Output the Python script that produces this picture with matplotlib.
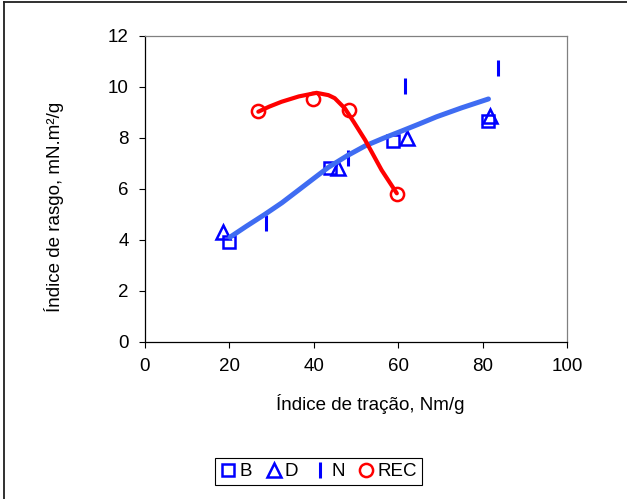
import matplotlib.pyplot as plt
from matplotlib.lines import Line2D

plt.rcParams['font.family'] = ['Liberation Sans', 'DejaVu Sans']

# measured points (x = índice de tração, y = índice de rasgo)
b_x = [20.0, 43.9, 58.9, 81.2]
b_y = [3.92, 6.82, 7.88, 8.65]
d_x = [18.6, 45.7, 62.0, 81.7]
d_y = [4.31, 6.82, 7.97, 8.86]
n_x = [28.7, 48.2, 61.7, 83.6]
n_y = [4.64, 7.19, 10.04, 10.72]
rec_x = [26.9, 39.9, 48.4, 59.8]
rec_y = [9.05, 9.50, 9.09, 5.79]

# trend curves
fit_x = [20.2, 24.0, 28.5, 32.5, 36.3, 40.0, 43.5, 48.0, 52.2, 56.5, 60.8, 65.0, 69.1, 75.0, 81.4]
fit_y = [4.10, 4.52, 5.00, 5.45, 5.93, 6.40, 6.84, 7.30, 7.68, 7.98, 8.26, 8.54, 8.82, 9.17, 9.52]
rfit_x = [26.9, 29.5, 32.4, 36.5, 40.7, 43.5, 45.0, 47.4, 49.5, 52.2, 56.1, 59.7]
rfit_y = [9.02, 9.22, 9.41, 9.62, 9.76, 9.67, 9.55, 9.15, 8.62, 7.91, 6.73, 5.82]

xticks = [0, 20, 40, 60, 80, 100]
yticks = [0, 2, 4, 6, 8, 10, 12]

fig = plt.figure(figsize=(6.27, 4.99), dpi=100)
ax = fig.add_axes([0.2308, 0.3152, 0.6735, 0.6132])

blue = '#0000ff'
ax.plot(b_x, b_y, 's', ms=9, mfc='none', mec=blue, mew=1.8, ls='none', label='B', zorder=3)
ax.plot(d_x, d_y, '^', ms=10, mfc='none', mec=blue, mew=1.8, ls='none', label='D', zorder=3)
ax.plot(n_x, n_y, '|', ms=11, mec=blue, mew=2.2, ls='none', label='N', zorder=3)
ax.plot(rec_x, rec_y, 'o', ms=9.5, mfc='none', mec='#ff0000', mew=1.8, ls='none', label='REC', zorder=3)

ax.plot(fit_x, fit_y, color='#3f6cf2', lw=3.6, solid_capstyle='round', solid_joinstyle='round', zorder=4)
ax.plot(rfit_x, rfit_y, color='#ff0000', lw=3.0, solid_capstyle='round', solid_joinstyle='round', zorder=4)

ax.set_xlim(0, 100)
ax.set_ylim(0, 12)
ax.set_xticks(xticks)
ax.set_yticks(yticks)
ax.tick_params(direction='out', length=4.5, width=0.8, labelsize=13.5, pad=7)

for side in ['left', 'bottom']:
    ax.spines[side].set_color('black')
    ax.spines[side].set_linewidth(0.9)
for side in ['top', 'right']:
    ax.spines[side].set_color('#808080')
    ax.spines[side].set_linewidth(0.9)

ax.set_xlabel('Índice de tração, Nm/g', fontsize=13.5)
ax.set_ylabel('Índice de rasgo, mN.m²/g', fontsize=13.5)
ax.xaxis.set_label_coords(0.533, -0.17)
ax.yaxis.set_label_coords(-0.19, 0.44)

leg = fig.legend(loc='center', bbox_to_anchor=(0.508, 0.055), ncol=4, fontsize=13.5,
                 handlelength=0.9, handletextpad=0.15, columnspacing=0.7,
                 borderpad=0.25, fancybox=False, framealpha=1)
leg.get_frame().set_edgecolor('black')
leg.get_frame().set_linewidth(0.8)

# chart-area border (only top and left edges visible)
fig.add_artist(Line2D([0.0056, 0.0056], [-0.1, 0.995], color='#202020', lw=1.3, transform=fig.transFigure))
fig.add_artist(Line2D([0.0056, 1.1], [0.995, 0.995], color='#202020', lw=1.3, transform=fig.transFigure))

fig.savefig('out.png', dpi=100)
